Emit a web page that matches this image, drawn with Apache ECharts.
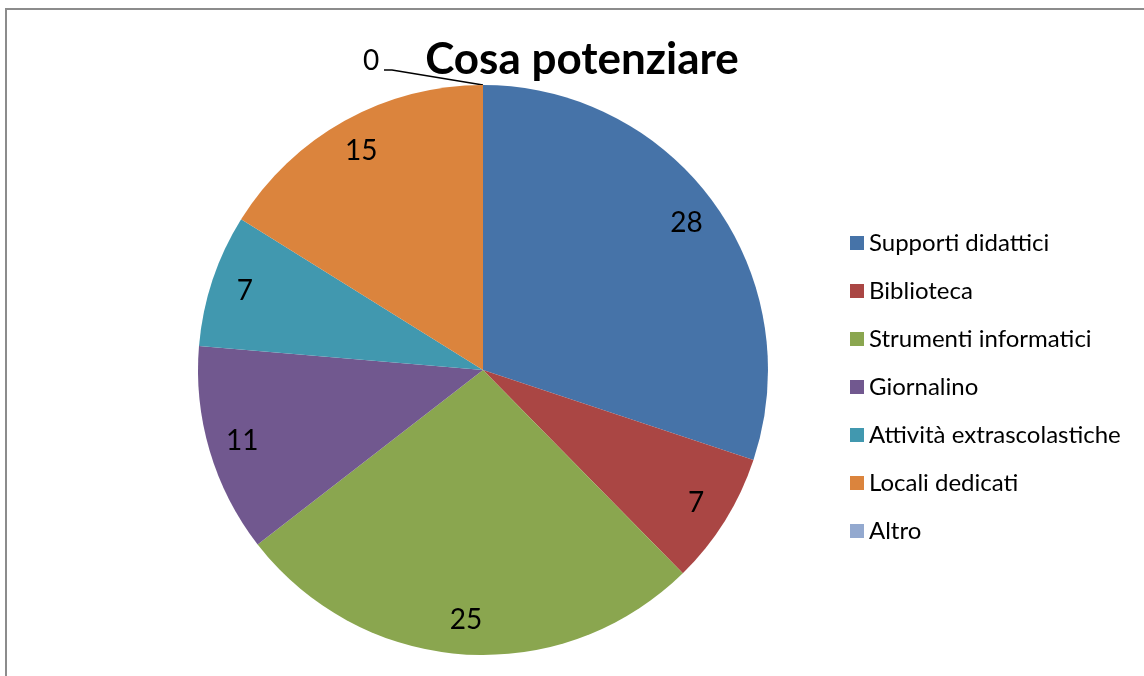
<!DOCTYPE html>
<html>
<head>
<meta charset="utf-8">
<script src="https://cdn.jsdelivr.net/npm/echarts@6/dist/echarts.min.js"></script>
<style>
  html, body { margin: 0; padding: 0; background: #fff; overflow: hidden; }
  #frame { position: absolute; left: 5px; top: 8px; width: 1200px; height: 720px; border: 2px solid #8c8c8c; box-sizing: border-box; }
  #chart { position: absolute; left: 0; top: 0; width: 1144px; height: 676px; }
</style>
</head>
<body>
<div id="frame"></div>
<div id="chart"></div>
<script>
var categories = ['Supporti didattici', 'Biblioteca', 'Strumenti informatici', 'Giornalino', 'Attività extrascolastiche', 'Locali dedicati', 'Altro'];
var values = [28, 7, 25, 11, 7, 15, 0];
var colors = ['#4673a8', '#aa4644', '#8aa64f', '#71588f', '#4198af', '#db843d', '#93a9cf'];

var font = 'Lato, "Open Sans", sans-serif';

// only the zero slice gets a leader line (its text comes from the ring series)
var pieData = categories.map(function (c, i) {
  var zero = values[i] === 0;
  return {
    name: c,
    value: values[i],
    label: { show: zero },
    labelLine: { show: zero }
  };
});
var ringData = categories.map(function (c, i) {
  return { name: c, value: values[i] };
});

var myechart = echarts.init(document.getElementById('chart'));
myechart.setOption({
  color: colors,
  animation: false,
  title: {
    text: 'Cosa potenziare',
    left: 577,
    top: 33,
    textAlign: 'center',
    textStyle: { fontFamily: font, fontSize: 44, fontWeight: 'bold', color: '#000' }
  },
  legend: {
    orient: 'vertical',
    left: 845,
    top: 226,
    itemWidth: 14,
    itemHeight: 14,
    itemGap: 24,
    icon: 'rect',
    textStyle: { fontFamily: font, fontSize: 24, lineHeight: 24, color: '#000' },
    data: categories
  },
  series: [
    {
      type: 'pie',
      center: [483, 370],
      radius: 285,
      startAngle: 90,
      clockwise: true,
      label: { position: 'outside', formatter: ' ', fontSize: 12 },
      labelLine: { length: 10, length2: 8, lineStyle: { color: '#000', width: 1.5 } },
      labelLayout: function (p) {
        if (p.dataIndex !== 6 || !p.labelLinePoints) return {};
        var s = p.labelLinePoints[0];
        return {
          labelLinePoints: [s, [s[0] - 91, s[1] - 15], [s[0] - 99, s[1] - 15]]
        };
      },
      emphasis: { disabled: true },
      data: pieData
    },
    {
      // transparent ring used only to place the value labels near the rim
      type: 'pie',
      center: [483, 370],
      radius: [176, 320],
      startAngle: 90,
      clockwise: true,
      silent: true,
      itemStyle: { color: 'rgba(0,0,0,0)' },
      label: {
        show: true,
        position: 'inside',
        fontFamily: font,
        fontSize: 28,
        color: '#000',
        formatter: '{c}'
      },
      labelLine: { show: false },
      labelLayout: function (p) {
        if (p.dataIndex !== 6) return {};
        return { dx: -112, dy: -58 };
      },
      data: ringData
    }
  ]
});
</script>
</body>
</html>
